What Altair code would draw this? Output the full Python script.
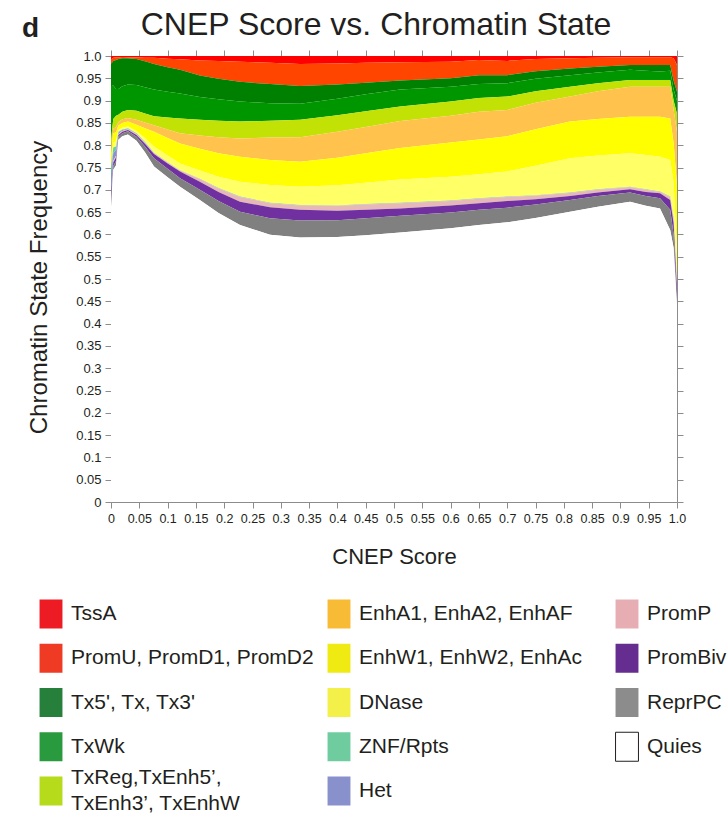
import altair as alt
import pandas as pd

# CNEP score bins along the x axis
score = [0, 0.004, 0.009, 0.013, 0.02, 0.03, 0.045, 0.06, 0.076, 0.1, 0.122,
         0.157, 0.19, 0.228, 0.281, 0.334, 0.4, 0.45, 0.511, 0.6, 0.65, 0.7,
         0.75, 0.811, 0.86, 0.917, 0.945, 0.97, 0.988, 0.994, 1.0]

# Frequency of each chromatin state per CNEP score bin
tssa = [.008, .004, .003, .003, .002, .003, .003, .004, .004, .006, .0075,
        .010, .011, .013, .015, .018, .017, .015, .014, .013, .009, .011,
        .007, .005, .004, .003, .003, .003, .003, .005, .020]
promu = [.010, .007, .006, .004, .003, .002, .004, .008, .014, .019, .0235,
         .034, .040, .045, .048, .049, .047, .045, .041, .037, .034, .032,
         .027, .023, .020, .017, .017, .017, .017, .050, .060]
tx = [.050, .055, .065, .067, .063, .059, .058, .058, .057, .055, .053,
      .048, .046, .044, .043, .040, .032, .026, .020, .019, .020, .018,
      .017, .015, .013, .011, .013, .015, .013, .020, .020]
txwk = [.120, .075, .060, .058, .057, .057, .058, .059, .060, .058, .056,
        .051, .048, .045, .039, .036, .037, .038, .038, .033, .031, .030,
        .028, .026, .024, .023, .021, .019, .021, .025, .030]
txreg = [.020, .022, .025, .016, .017, .018, .020, .020, .020, .027, .033,
         .035, .037, .038, .038, .039, .037, .035, .033, .032, .031, .030,
         .026, .022, .018, .015, .015, .015, .015, .020, .040]
enha = [.010, .010, .012, .008, .008, .008, .011, .013, .015, .019, .023,
        .030, .036, .041, .050, .055, .058, .059, .060, .060, .062, .059,
        .059, .056, .062, .067, .067, .067, .071, .075, .120]
enhw = [.030, .022, .020, .010, .011, .011, .014, .022, .033, .039, .045,
        .049, .053, .056, .056, .056, .062, .066, .071, .077, .078, .079,
        .082, .082, .082, .082, .086, .090, .093, .090, .150]
dnase = [.010, .010, .012, .004, .004, .004, .005, .009, .014, .015, .015,
         .018, .025, .033, .040, .041, .045, .048, .052, .053, .054, .056,
         .066, .077, .076, .075, .077, .078, .082, .080, .070]
znf = [.020, .012, .008, .002, .001, .001, .001, .001, .0005, .0005, .0005,
       .0005, .0005, .0005, .0005, .0005, .0005, .0005, .0005, .0005, .0005, .0005,
       .0005, .0005, .0005, .0005, .0005, .0005, .0005, .002, .005]
het = [.040, .018, .012, .003, .002, .001, .001, .001, .0005, .0005, .0005,
       .0005, .0005, .0005, .0005, .0005, .0005, .0005, .0005, .0005, .0005, .0005,
       .0005, .0005, .0005, .0005, .0005, .0005, .0005, .003, .005]
promp = [.005, .004, .004, .002, .002, .002, .002, .002, .002, .002, .002,
         .006, .008, .011, .009, .010, .011, .012, .012, .010, .010, .009,
         .008, .007, .006, .005, .005, .003, .007, .005, .005]
prombiv = [.010, .008, .008, .004, .003, .003, .004, .006, .009, .012, .015,
           .018, .020, .022, .025, .024, .021, .019, .016, .016, .015, .015,
           .012, .009, .008, .007, .009, .011, .022, .025, .030]
reprpc = [.005, .008, .010, .007, .007, .007, .009, .013, .019, .019, .019,
          .023, .027, .030, .037, .038, .038, .038, .038, .035, .034, .033,
          .030, .026, .024, .021, .022, .023, .045, .030, .005]
quies = [.662, .745, .755, .812, .820, .824, .810, .784, .752, .728, .707,
         .677, .648, .621, .599, .593, .594, .598, .604, .614, .621, .627,
         .637, .651, .662, .673, .664, .658, .610, .570, .440]

# States in legend order (top of the stack first)
states = ["TssA", "PromU", "Tx", "TxWk", "TxReg", "EnhA", "EnhW", "DNase",
          "ZNF/Rpts", "Het", "PromP", "PromBiv", "ReprPC", "Quies"]
state_labels = ["TssA", "PromU, PromD1, PromD2", "Tx5', Tx, Tx3'", "TxWk",
                "TxReg,TxEnh5\u2019,|TxEnh3\u2019, TxEnhW",
                "EnhA1, EnhA2, EnhAF", "EnhW1, EnhW2, EnhAc", "DNase",
                "ZNF/Rpts", "Het", "PromP", "PromBiv", "ReprPC", "Quies"]
area_colors = ["#FF0000", "#FF4500", "#008000", "#009600", "#C2E105",
               "#FFC34D", "#FFFF00", "#FFFF66", "#66CDAA", "#8A91D0",
               "#E6B8B7", "#7030A0", "#808080", "#FFFFFF"]
swatch_colors = ["#ED1C24", "#EF3B24", "#267F3A", "#2A9A3F", "#B5DB1A",
                 "#F8BB35", "#EFEA12", "#F3F04A", "#6ECC9E", "#8891CC",
                 "#E6AEB2", "#662D91", "#8C8C8C", "#FFFFFF"]
panel_label = ["d"]

x_ticks = [round(0.05 * i, 2) for i in range(21)]
y_ticks = [round(0.05 * i, 2) for i in range(21)]

series = [tssa, promu, tx, txwk, txreg, enha, enhw, dnase, znf, het,
          promp, prombiv, reprpc, quies]

rows = []
for i, (name, vals) in enumerate(zip(states, series)):
    for s, v in zip(score, vals):
        rows.append({"score": s, "state": name, "freq": v,
                     "stack_pos": len(states) - 1 - i})
df = pd.DataFrame(rows)

legend_df = pd.DataFrame({
    "state": states,
    "label": state_labels,
    "col": [i // 5 for i in range(len(states))],
    "row": [i % 5 for i in range(len(states))],
})

font = "Liberation Sans"
ink = "#231F20"
tick_label = "datum.value == 1 ? '1.0' : format(datum.value, '~g')"
unit = alt.Scale(domain=[0, 1], nice=False, zero=False)

area = alt.Chart(df).mark_area(interpolate="linear").encode(
    x=alt.X("score:Q", scale=unit,
            axis=alt.Axis(orient="bottom", values=x_ticks, labelExpr=tick_label,
                          labelOverlap=False, labelFlush=False, labelFontSize=12.5,
                          title="CNEP Score", titleFontSize=22, titlePadding=22)),
    y=alt.Y("freq:Q", stack="normalize", scale=unit,
            axis=alt.Axis(orient="left", values=y_ticks, labelExpr=tick_label,
                          labelOverlap=False, labelFlush=False,
                          title="Chromatin State Frequency", titleFontSize=24,
                          titlePadding=24, titleY=231)),
    color=alt.Color("state:N", scale=alt.Scale(domain=states, range=area_colors),
                    legend=None),
    order=alt.Order("stack_pos:Q", sort="ascending"),
)

# Mirrored tick marks along the top and right edges of the frame
frame = alt.Chart(df).mark_point(opacity=0).encode(
    x=alt.X("score:Q", scale=unit,
            axis=alt.Axis(orient="top", values=x_ticks, labels=False, title=None)),
    y=alt.Y("freq:Q", scale=unit,
            axis=alt.Axis(orient="right", values=y_ticks, labels=False, title=None)),
)

legend_x = alt.X("col:Q", scale=alt.Scale(domain=[0, 2], range=[-60, 516], nice=False, zero=False), axis=None)
legend_y = alt.Y("row:Q", scale=alt.Scale(domain=[0, 4], range=[558, 735], nice=False, zero=False), axis=None)
swatch_shape = "M-0.79,-1L0.79,-1L0.79,1L-0.79,1Z"

swatches = alt.Chart(legend_df).mark_point(
    shape=swatch_shape, size=841, filled=True, opacity=1
).encode(
    x=legend_x, y=legend_y,
    color=alt.Color("state:N", scale=alt.Scale(domain=states, range=swatch_colors),
                    legend=None),
)

outline = alt.Chart(legend_df).mark_point(
    shape=swatch_shape, size=841, filled=False, color=ink, strokeWidth=1, opacity=1
).encode(x=legend_x, y=legend_y).transform_filter("datum.state == 'Quies'")

text_style = dict(align="left", baseline="middle", dx=20, font=font,
                  fontSize=21, color=ink, lineHeight=26)

# One-line legend labels
legend_text = alt.Chart(legend_df).transform_filter(
    "indexof(datum.label, '|') < 0"
).mark_text(**text_style).encode(x=legend_x, y=legend_y, text="label:N")

# Two-line legend labels, centred on their swatch
legend_text2 = alt.Chart(legend_df).transform_filter(
    "indexof(datum.label, '|') >= 0"
).transform_calculate(
    lines="split(datum.label, '|')"
).mark_text(dy=-13, **text_style).encode(x=legend_x, y=legend_y, text="lines:N")

panel = alt.Chart(pd.DataFrame({"panel": panel_label})).mark_text(
    font=font, fontSize=28, fontWeight="bold", align="left",
    baseline="alphabetic", color=ink
).encode(x=alt.value(-89), y=alt.value(-19), text="panel:N")

chart = alt.layer(area, frame, swatches, outline, legend_text, legend_text2,
                  panel).resolve_scale(
    x="independent", y="independent", color="independent"
).properties(
    width=566, height=446,
    title=alt.TitleParams("CNEP Score vs. Chromatin State", font=font, fontSize=32,
                          fontWeight="normal", color=ink, anchor="middle",
                          baseline="alphabetic", dx=-18, offset=-52),
    autosize=alt.AutoSizeParams(type="none"),
    padding={"left": 111, "top": 56, "right": 51, "bottom": 321},
).configure_view(stroke=None).configure_axis(
    grid=False, domainColor="#8C8C8C", tickColor="#8C8C8C", tickSize=6,
    domainWidth=1, tickWidth=1, labelFont=font, labelFontSize=13,
    labelColor=ink, labelPadding=4, titleFont=font, titleFontWeight="normal",
    titleColor=ink,
)

chart.save("out.html", embed_options={"renderer": "svg", "actions": False})
